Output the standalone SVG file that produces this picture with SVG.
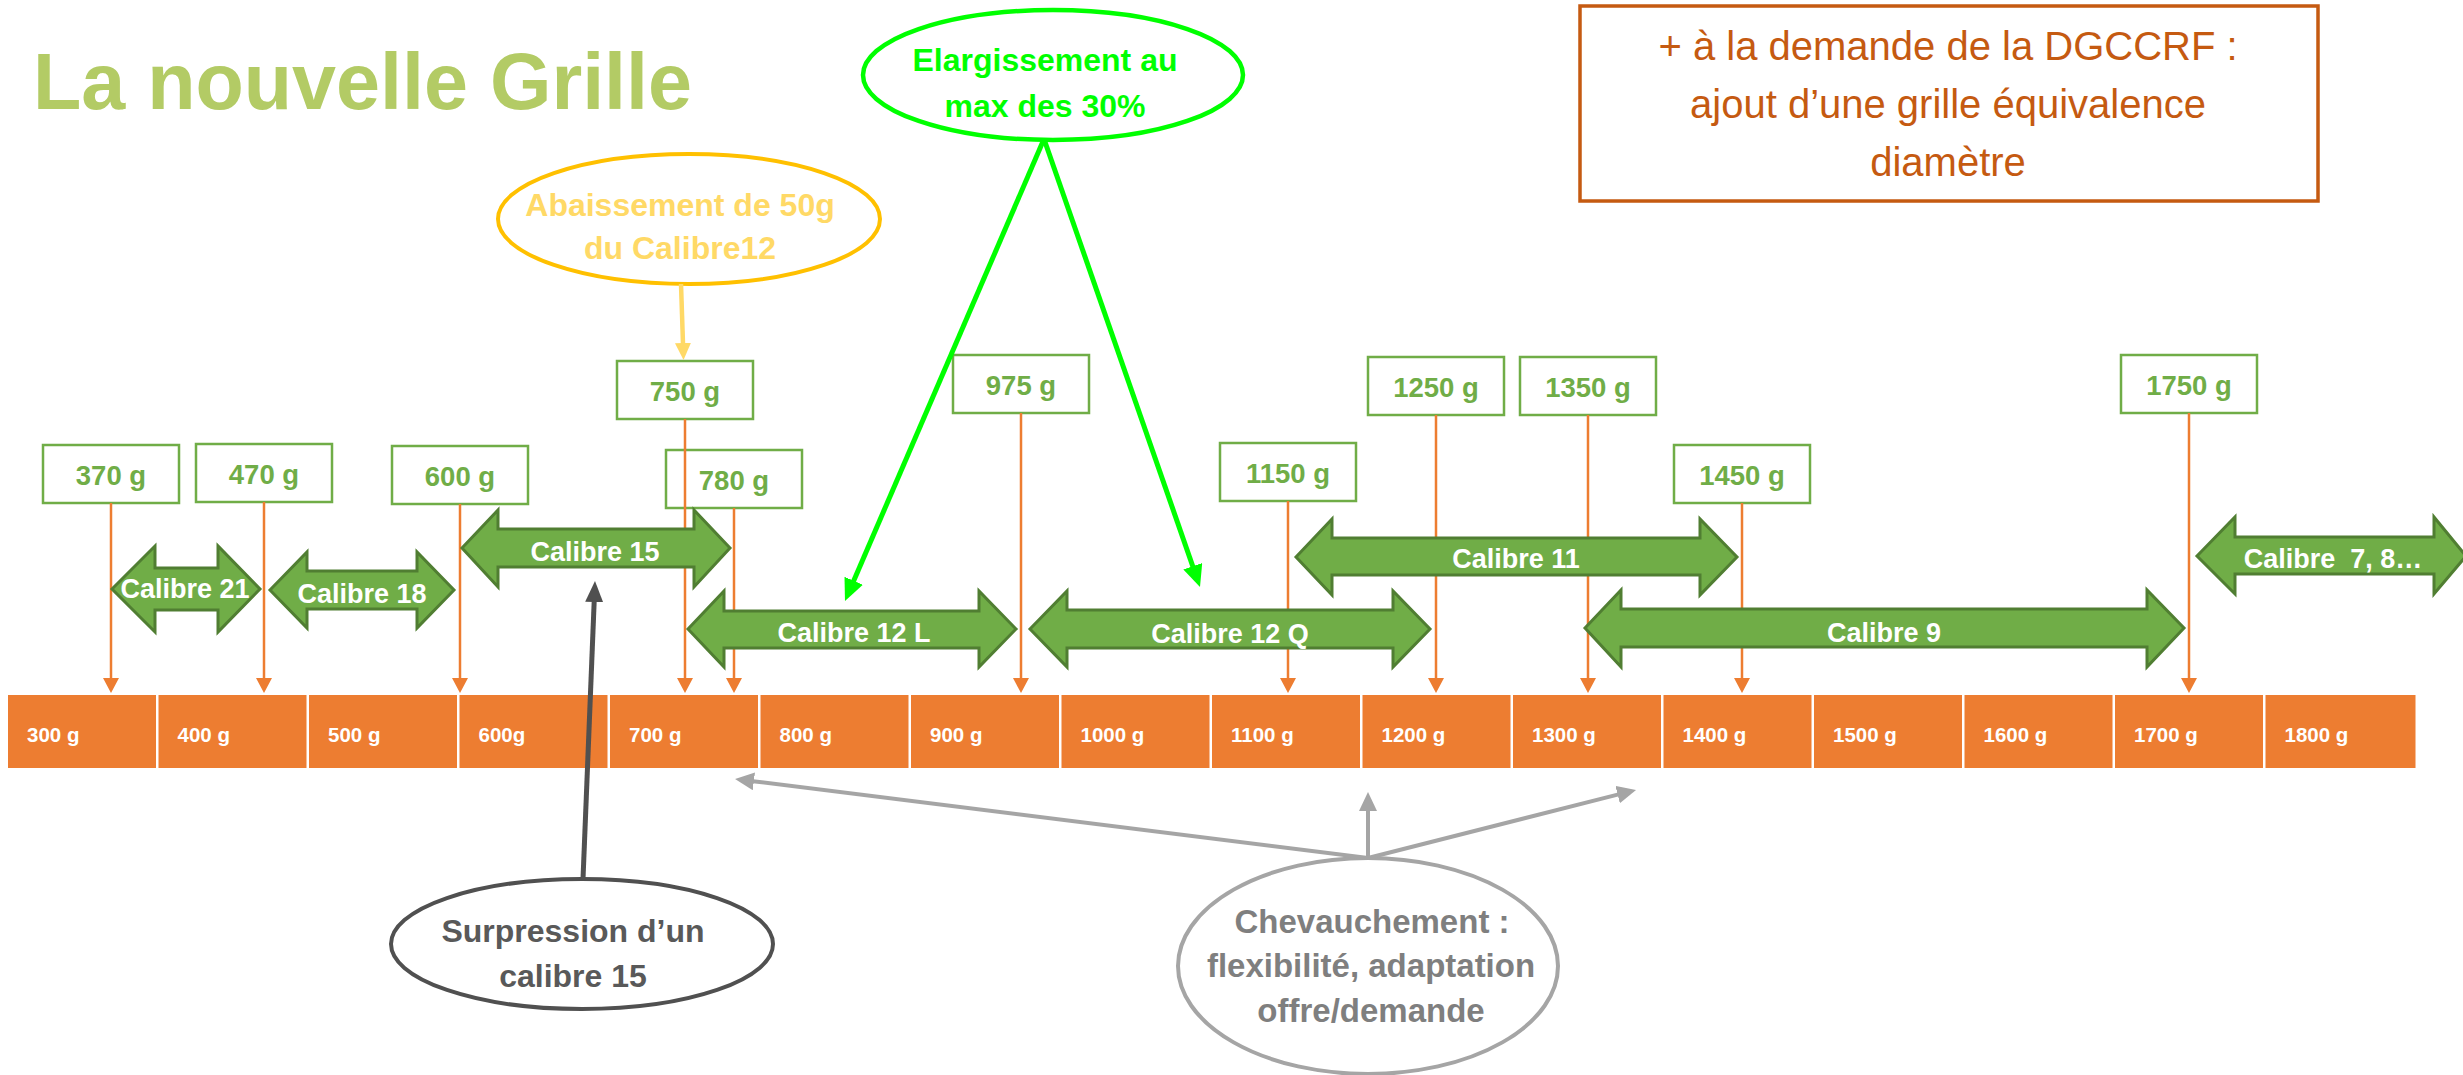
<svg xmlns="http://www.w3.org/2000/svg" width="2463" height="1075" viewBox="0 0 2463 1075">
<defs>
<style>
text{font-family:"Liberation Sans",Arial,sans-serif;}
.title{font-size:80px;font-weight:bold;fill:#B3CB65;}
.blk{fill:#ED7D31;}
.blbl{font-size:20.5px;font-weight:bold;fill:#FFFFFF;}
.wbox{fill:#FFFFFF;stroke:#70AD47;stroke-width:2.5;}
.wtxt{font-size:27.5px;font-weight:bold;fill:#70AD47;text-anchor:middle;}
.oline{stroke:#ED7D31;stroke-width:2.5;fill:none;}
.cal{fill:#70AD47;stroke:#507E32;stroke-width:3;stroke-linejoin:miter;}
.ctxt{font-size:27px;font-weight:bold;fill:#FFFFFF;text-anchor:middle;white-space:pre;}
.etxt{font-size:32px;font-weight:bold;text-anchor:middle;}
.dtxt{font-size:40px;fill:#C55A11;text-anchor:middle;}
</style>
<marker id="mo" markerUnits="userSpaceOnUse" markerWidth="16" markerHeight="16" refX="1" refY="8" orient="auto"><path d="M0,0 L15,8 L0,16 z" fill="#ED7D31"/></marker>
<marker id="mg" markerUnits="userSpaceOnUse" markerWidth="24" markerHeight="22" refX="1" refY="10" orient="auto"><path d="M0,0 L22,10 L0,20 z" fill="#00FF00"/></marker>
<marker id="md" markerUnits="userSpaceOnUse" markerWidth="22" markerHeight="20" refX="1" refY="9" orient="auto"><path d="M0,0 L21,9 L0,18 z" fill="#505050"/></marker>
<marker id="ma" markerUnits="userSpaceOnUse" markerWidth="20" markerHeight="20" refX="1" refY="9" orient="auto"><path d="M0,0 L19,9 L0,18 z" fill="#A5A5A5"/></marker>
<marker id="my" markerUnits="userSpaceOnUse" markerWidth="18" markerHeight="18" refX="1" refY="8" orient="auto"><path d="M0,0 L17,8 L0,16 z" fill="#FFD966"/></marker>
</defs>
<rect width="2463" height="1075" fill="#FFFFFF"/>

<g id="title"><text class="title" x="33" y="109" textLength="659" lengthAdjust="spacingAndGlyphs">La nouvelle Grille</text></g>

<g id="scale">
<rect class="blk" x="8" y="695" width="148" height="73"/><text class="blbl" x="27" y="742">300 g</text>
<rect class="blk" x="158.5" y="695" width="148" height="73"/><text class="blbl" x="177.5" y="742">400 g</text>
<rect class="blk" x="309" y="695" width="148" height="73"/><text class="blbl" x="328" y="742">500 g</text>
<rect class="blk" x="459.5" y="695" width="148" height="73"/><text class="blbl" x="478.5" y="742">600g</text>
<rect class="blk" x="610" y="695" width="148" height="73"/><text class="blbl" x="629" y="742">700 g</text>
<rect class="blk" x="760.5" y="695" width="148" height="73"/><text class="blbl" x="779.5" y="742">800 g</text>
<rect class="blk" x="911" y="695" width="148" height="73"/><text class="blbl" x="930" y="742">900 g</text>
<rect class="blk" x="1061.5" y="695" width="148" height="73"/><text class="blbl" x="1080.5" y="742">1000 g</text>
<rect class="blk" x="1212" y="695" width="148" height="73"/><text class="blbl" x="1231" y="742">1100 g</text>
<rect class="blk" x="1362.5" y="695" width="148" height="73"/><text class="blbl" x="1381.5" y="742">1200 g</text>
<rect class="blk" x="1513" y="695" width="148" height="73"/><text class="blbl" x="1532" y="742">1300 g</text>
<rect class="blk" x="1663.5" y="695" width="148" height="73"/><text class="blbl" x="1682.5" y="742">1400 g</text>
<rect class="blk" x="1814" y="695" width="148" height="73"/><text class="blbl" x="1833" y="742">1500 g</text>
<rect class="blk" x="1964.5" y="695" width="148" height="73"/><text class="blbl" x="1983.5" y="742">1600 g</text>
<rect class="blk" x="2115" y="695" width="148" height="73"/><text class="blbl" x="2134" y="742">1700 g</text>
<rect class="blk" x="2265.5" y="695" width="150" height="73"/><text class="blbl" x="2284.5" y="742">1800 g</text>
</g>

<g id="w370"><rect class="wbox" x="43" y="445" width="136" height="58"/><text class="wtxt" x="111" y="485">370 g</text></g>
<g id="w470"><rect class="wbox" x="196" y="444" width="136" height="58"/><text class="wtxt" x="264" y="484">470 g</text></g>
<g id="w600"><rect class="wbox" x="392" y="446" width="136" height="58"/><text class="wtxt" x="460" y="486">600 g</text></g>
<g id="w750"><rect class="wbox" x="617" y="361" width="136" height="58"/><text class="wtxt" x="685" y="401">750 g</text></g>
<g id="w780"><rect class="wbox" x="666" y="450" width="136" height="58"/><text class="wtxt" x="734" y="490">780 g</text></g>
<g id="w975"><rect class="wbox" x="953" y="355" width="136" height="58"/><text class="wtxt" x="1021" y="395">975 g</text></g>
<g id="w1150"><rect class="wbox" x="1220" y="443" width="136" height="58"/><text class="wtxt" x="1288" y="483">1150 g</text></g>
<g id="w1250"><rect class="wbox" x="1368" y="357" width="136" height="58"/><text class="wtxt" x="1436" y="397">1250 g</text></g>
<g id="w1350"><rect class="wbox" x="1520" y="357" width="136" height="58"/><text class="wtxt" x="1588" y="397">1350 g</text></g>
<g id="w1450"><rect class="wbox" x="1674" y="445" width="136" height="58"/><text class="wtxt" x="1742" y="485">1450 g</text></g>
<g id="w1750"><rect class="wbox" x="2121" y="355" width="136" height="58"/><text class="wtxt" x="2189" y="395">1750 g</text></g>

<g id="note-abaissement">
<ellipse cx="689" cy="219" rx="191" ry="65" fill="#FFFFFF" stroke="#FFC000" stroke-width="4"/>
<text class="etxt" x="680" y="216" fill="#FFD966">Abaissement de 50g</text>
<text class="etxt" x="680" y="259" fill="#FFD966">du Calibre12</text>
</g>
<g id="note-elargissement">
<ellipse cx="1053" cy="75" rx="190" ry="65" fill="#FFFFFF" stroke="#00FF00" stroke-width="4.5"/>
<text class="etxt" x="1045" y="71" fill="#00FF00">Elargissement au</text>
<text class="etxt" x="1045" y="117" fill="#00FF00">max des 30%</text>
</g>
<g id="note-dgccrf">
<rect x="1580" y="6" width="738" height="195" fill="#FFFFFF" stroke="#C55A11" stroke-width="3.5"/>
<text class="dtxt" x="1948" y="60">+ à la demande de la DGCCRF :</text>
<text class="dtxt" x="1948" y="118">ajout d’une grille équivalence</text>
<text class="dtxt" x="1948" y="176">diamètre</text>
</g>
<g id="note-surpression">
<ellipse cx="582" cy="944" rx="191" ry="65" fill="#FFFFFF" stroke="#505050" stroke-width="4"/>
<text class="etxt" x="573" y="942" fill="#595959">Surpression d’un</text>
<text class="etxt" x="573" y="987" fill="#595959">calibre 15</text>
</g>
<g id="note-chevauchement">
<ellipse cx="1368" cy="966" rx="190" ry="108" fill="#FFFFFF" stroke="#A5A5A5" stroke-width="4"/>
<text class="etxt" x="1372" y="933" fill="#7F7F7F" style="font-size:33px">Chevauchement :</text>
<text class="etxt" x="1371" y="977" fill="#7F7F7F" style="font-size:33px">flexibilité, adaptation</text>
<text class="etxt" x="1371" y="1022" fill="#7F7F7F" style="font-size:33px">offre/demande</text>
</g>

<g id="connectors">
<line class="oline" x1="111" y1="503" x2="111" y2="679" marker-end="url(#mo)"/>
<line class="oline" x1="264" y1="502" x2="264" y2="679" marker-end="url(#mo)"/>
<line class="oline" x1="460" y1="504" x2="460" y2="679" marker-end="url(#mo)"/>
<line class="oline" x1="685" y1="419" x2="685" y2="679" marker-end="url(#mo)"/>
<line class="oline" x1="734" y1="508" x2="734" y2="679" marker-end="url(#mo)"/>
<line class="oline" x1="1021" y1="413" x2="1021" y2="679" marker-end="url(#mo)"/>
<line class="oline" x1="1288" y1="501" x2="1288" y2="679" marker-end="url(#mo)"/>
<line class="oline" x1="1436" y1="415" x2="1436" y2="679" marker-end="url(#mo)"/>
<line class="oline" x1="1588" y1="415" x2="1588" y2="679" marker-end="url(#mo)"/>
<line class="oline" x1="1742" y1="503" x2="1742" y2="679" marker-end="url(#mo)"/>
<line class="oline" x1="2189" y1="413" x2="2189" y2="679" marker-end="url(#mo)"/>
<line x1="681" y1="284" x2="683" y2="344" stroke="#FFD966" stroke-width="4.5" marker-end="url(#my)"/>
<line x1="1044" y1="139" x2="853.3" y2="581.7" stroke="#00FF00" stroke-width="5" marker-end="url(#mg)"/>
<line x1="1044" y1="139" x2="1193.1" y2="567.2" stroke="#00FF00" stroke-width="5" marker-end="url(#mg)"/>
<line x1="583" y1="879" x2="594.2" y2="601" stroke="#505050" stroke-width="5" marker-end="url(#md)"/>
<line x1="1368" y1="858" x2="1368" y2="810" stroke="#A5A5A5" stroke-width="4" marker-end="url(#ma)"/>
<line x1="1368" y1="858" x2="1618.6" y2="794.4" stroke="#A5A5A5" stroke-width="4" marker-end="url(#ma)"/>
<line x1="1368" y1="858" x2="752.9" y2="781.2" stroke="#A5A5A5" stroke-width="4" marker-end="url(#ma)"/>
</g>

<g id="cal21"><polygon class="cal" points="112,589 155,546 155,568 218,568 218,546 260,589 218,632 218,610 155,610 155,632"/><text class="ctxt" x="185" y="598">Calibre 21</text></g>
<g id="cal18"><polygon class="cal" points="270,590 307,552 307,571 417,571 417,552 454,590 417,628 417,609 307,609 307,628"/><text class="ctxt" x="362" y="603">Calibre 18</text></g>
<g id="cal15"><polygon class="cal" points="462,548 498,510 498,529 694,529 694,510 730,548 694,587 694,567 498,567 498,587"/><text class="ctxt" x="595" y="561">Calibre 15</text></g>
<g id="cal12L"><polygon class="cal" points="688,629 724,591 724,611 979,611 979,591 1016,629 979,667 979,648 724,648 724,667"/><text class="ctxt" x="854" y="642">Calibre 12 L</text></g>
<g id="cal12Q"><polygon class="cal" points="1030,629 1067,591 1067,610 1393,610 1393,591 1430,629 1393,667 1393,648 1067,648 1067,667"/><text class="ctxt" x="1230" y="643">Calibre 12 Q</text></g>
<g id="cal11"><polygon class="cal" points="1296,557 1332,519 1332,538 1700,538 1700,519 1737,557 1700,595 1700,575 1332,575 1332,595"/><text class="ctxt" x="1516" y="568">Calibre 11</text></g>
<g id="cal9"><polygon class="cal" points="1585,628 1621,590 1621,609 2147,609 2147,590 2184,628 2147,667 2147,647 1621,647 1621,667"/><text class="ctxt" x="1884" y="642">Calibre 9</text></g>
<g id="cal78"><polygon class="cal" points="2197,556 2235,517 2235,537 2434,537 2434,517 2466,556 2434,594 2434,574 2235,574 2235,594"/><text class="ctxt" x="2333" y="568">Calibre  7, 8…</text></g>
</svg>
